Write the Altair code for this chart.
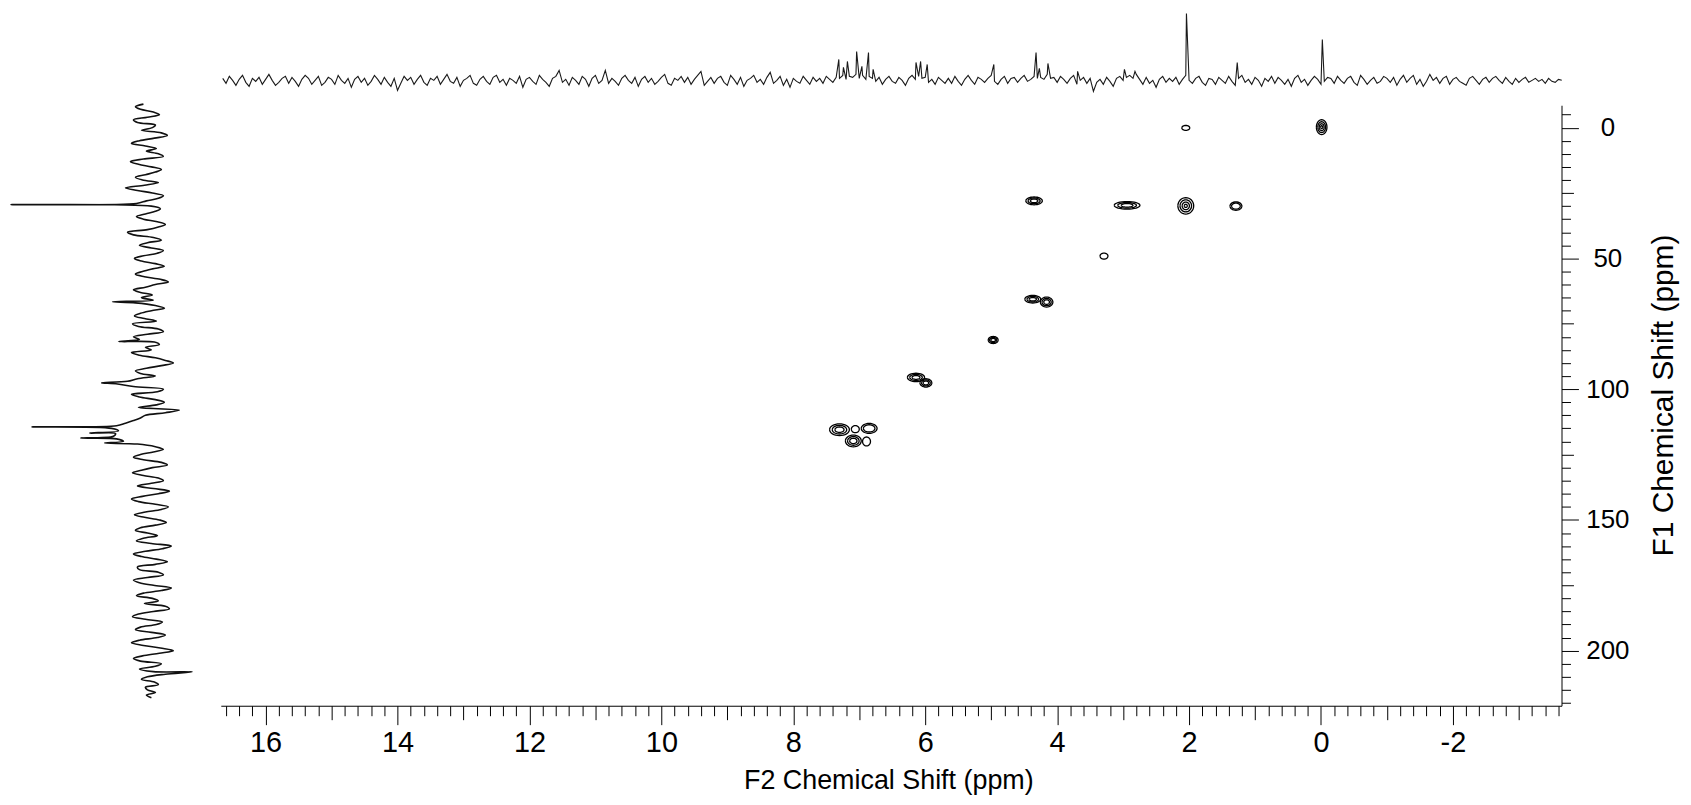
import math
import altair as alt
import pandas as pd

# ---------------- data ----------------
# 1H projection (top trace): noise on a 0.05 ppm grid from 16.65 ppm down to -3.65 ppm
top_noise = [
    3, -2, 5, 1, -4, 2, 6, -1, -5, 3, 0, 4, -3, 2, 7, 1, -4, -1, 3, 5,
    -2, 4, 0, -5, 2, 6, 3, -3, 1, 5, -4, -1, 4, 2, -3, 6, 1, -2, 3, -6,
    2, 5, -1, 3, -4, 0, 6, 2, -3, 4, -1, -5, 3, -9, -2, 5, 1, 4, -3, 2,
    6, -1, -4, 3, 1, 5, -3, 2, 7, 0, -2, 4, -5, 1, 3, 6, -2, -4, 2, 5,
    0, -3, 4, 6, -1, 2, -4, 3, 1, -2, 5, -6, 2, 4, 0, -3, 6, 2, -1, -5,
    3, 5, 11, -1, 2, -4, 4, 1, -3, 5, 2, -5, 3, 6, -2, 1, 11, -2, 3, 0,
    -4, 3, 6, 1, -2, 4, -5, 2, 5, -1, 3, -3, 0, 4, 7, -2, -4, 3, 1, 5,
    -1, 4, -3, 2, 6, 10, -4, 0, 4, -2, 3, 5, -1, -4, 6, 2, -3, 4, -5, 1,
    3, 6, -1, 2, -3, 4, 9, -2, 1, 5, -4, 2, -6, 3, 0, -2, 5, 1, -3, 4,
    0, 3, -2, 5, 2, -1, 4, 3, 6, 2, 5, 4, 7, 3, 6, 2, 5, 3, 0, 4,
    -3, 2, 5, 0, -2, 4, 1, -4, 3, 6, 2, 5, 3, 4, -1, 2, -3, 4, 1, -2,
    3, -2, 5, 0, -4, 2, 6, 1, -3, 4, 2, -1, 3, 6, 0, -3, 2, 5, -2, 3,
    4, -1, 3, 6, 0, 2, 5, 3, 4, 2, 7, 3, 4, -1, 5, 2, -2, 3, 6, -3,
    1, 4, -2, 3, -10, -1, 2, -3, 4, 0, -5, 3, 5, 1, 4, 6, 3, 7, 2, -3,
    4, -2, 1, -6, 2, 5, -1, 3, 0, 4, -3, 2, 6, 1, -2, 3, 5, -1, -4, 3,
    2, -3, 4, 1, -2, 5, 0, -4, 3, 6, -1, 2, -3, 4, 1, -5, 3, 0, 5, -2,
    4, 1, -3, 2, -5, 3, 6, -1, 2, -4, 1, 5, 2, -3, 0, 4, 3, -2, 5, 1,
    -2, 3, 5, -1, -4, 6, 2, -3, 1, 4, -2, 0, 5, 3, -1, 4, -4, 2, 6, -1,
    3, 6, -3, 2, -5, 0, 7, 1, 4, -2, 3, 5, -3, 2, 4, 0, -2, -4, 3, 5,
    1, -3, 2, 4, -1, 3, 5, 1, -2, 4, 0, -3, 3, -1, 2, 4, -1, 1, 3, 0,
    2, -2, 3, 0, -1, 2, 1,
]
top_start_ppm = 16.65
top_step_ppm = 0.05
top_peak_ppm = [7.31, 7.24, 7.18, 7.04, 6.96, 6.86, 6.79, 6.14, 6.07, 5.97,
                4.96, 4.32, 4.27, 4.14, 3.69, 2.98, 2.82, 2.04, 1.27, -0.02]
top_peak_h = [22, 14, 20, 30, 15, 29, 12, 19, 20, 17,
              17, 29, 13, 18, 10, 12, 10, 68, 19, 42]

# 13C projection (left trace): noise on a 1 ppm grid from -9 ppm to 218 ppm (positive = to the left)
left_noise = [
    6, 14, 9, -4, -10, 2, 16, 12, -6, -3, 8, -12, -18, -5, 10, 18, 4, -7, 3, -9,
    -14, 6, 19, 11, -2, -12, -6, 4, 14, 7, -9, 5, 24, 12, -3, -14, -9, 3, 13, -2,
    -11, -6, 4, 13, 6, -8, -16, -9, 2, 22, 16, -4, -12, 2, 10, -2, -14, -8, 6, 15,
    8, -6, -15, -3, 7, 14, 5, -11, -19, -6, 4, 16, 9, -3, 8, -4, 14, -6, -15, -2,
    9, 15, 5, -7, 17, 11, -9, -14, 2, 16, 10, -5, -10, 4, -2, 18, 10, -6, -16, -24,
    -12, 3, 14, 9, -6, 12, 22, 32, 16, -14, -8, 18, 10, -6, -15, -7, 11, -30, -16, 4,
    9, 16, 24, 33, 38, 31, 34, 36, 33, 26, 12, -6, -14, -4, 9, 16, 6, -12, -18, -3,
    8, 17, 6, -9, -14, -2, 12, -4, -20, -9, 7, 18, 11, -6, -19, -12, 4, 15, 5, -10,
    -17, -6, 9, 14, 2, -8, 6, 13, -2, -22, -13, 4, 16, 8, -7, -18, -6, 12, 10, -9,
    -14, 2, 16, 10, -4, -22, -12, 6, 13, -3, -9, 5, -16, -20, -4, 11, 17, 4, -13, -7,
    9, 14, -2, -16, -8, 10, 18, 6, -11, -24, -10, 7, 16, 9, -12, -6, 10, -4, -16, 2,
    8, -5, -9, 4, 2, -6, 3, -2,
]
left_start_ppm = -9
left_step_ppm = 1
left_peak_ppm = [29.4, 66.6, 81.8, 97.6, 114.4, 116.8, 118.7, 120.6, 208.1]
left_peak_h = [139, 37, 31, 48, 118, 60, 69, 45, -43]

# 2D cross peaks: F2 (x), F1 (y), widths, contour levels
peak_f2 = [2.05, -0.01, 4.35, 2.94, 2.05, 1.29, 3.29, 4.37, 4.16, 4.97,
           6.14, 5.99, 7.30, 7.06, 6.85, 7.09, 6.89]
peak_f1 = [0.1, -0.2, 28.0, 29.7, 29.9, 30.0, 49.1, 65.6, 66.7, 81.2,
           95.5, 97.6, 115.5, 115.3, 115.0, 119.8, 120.0]
peak_w2 = [0.12, 0.16, 0.25, 0.39, 0.24, 0.18, 0.12, 0.24, 0.19, 0.15,
           0.26, 0.18, 0.30, 0.12, 0.24, 0.24, 0.12]
peak_w1 = [1.9, 5.7, 3.0, 2.9, 6.3, 3.2, 2.3, 2.9, 3.8, 2.7,
           3.2, 3.2, 4.5, 2.7, 3.8, 4.5, 3.4]
peak_levels = [1, 4, 3, 3, 4, 2, 1, 3, 3, 3, 3, 3, 3, 1, 2, 3, 1]

# axis tick values
x_tick_values = [round(16.6 - 0.2 * i, 1) for i in range(102)]
y_tick_values = list(range(-5, 221, 5))

# ---------------- tables ----------------
tp = [(round(top_start_ppm - top_step_ppm * i, 2), v) for i, v in enumerate(top_noise)]
tp += list(zip(top_peak_ppm, top_peak_h))
tp.sort(key=lambda p: -p[0])
top_df = pd.DataFrame({"ppm": [p[0] for p in tp], "val": [p[1] for p in tp],
                       "ord": list(range(len(tp)))})

lp = [(left_start_ppm + left_step_ppm * i, v) for i, v in enumerate(left_noise)]
lp += list(zip(left_peak_ppm, left_peak_h))
lp.sort(key=lambda p: p[0])
left_df = pd.DataFrame({"ppm": [p[0] for p in lp], "val": [p[1] for p in lp],
                        "ord": list(range(len(lp)))})

rows = []
rid = 0
for cx, cy, w, h, n in zip(peak_f2, peak_f1, peak_w2, peak_w1, peak_levels):
    for k in range(n):
        s = 1 - 0.27 * k
        for j in range(33):
            t = 2 * math.pi * j / 32
            rows.append({"f2": cx + 0.5 * w * s * math.cos(t),
                         "f1": cy + 0.5 * h * s * math.sin(t),
                         "ring": rid, "step": j})
        rid += 1
cont_df = pd.DataFrame(rows)

# ---------------- scales ----------------
X_DOM = [16.679, -3.646]
X_RNG = [213.7, 1560]
Y_DOM = [-8.57, 221.06]
Y_RNG = [96, 699]


def xs():
    return alt.Scale(domain=X_DOM, range=X_RNG, nice=False, zero=False)


def ys():
    return alt.Scale(domain=Y_DOM, range=Y_RNG, nice=False, zero=False)


FONT = "Liberation Sans, Arial, sans-serif"

x_axis = alt.Axis(
    orient="bottom",
    values=x_tick_values,
    title="F2 Chemical Shift (ppm)",
    labelExpr="abs(datum.value - round(datum.value/2)*2) < 0.01 ? '' + round(datum.value) : ''",
    tickSize={"condition": [
        {"test": "abs(datum.value - round(datum.value/2)*2) < 0.01", "value": 19},
        {"test": "abs(datum.value - round(datum.value)) < 0.01", "value": 14}],
        "value": 10},
    labelPadding=4,
    labelOverlap=False, labelFlush=False, labelBound=False,
    labelFont=FONT, labelFontSize=29, labelColor="black",
    titleFont=FONT, titleFontSize=27, titleFontWeight="normal", titleColor="black",
    titleX=884, titleY=75, titleBaseline="middle", titleAlign="center",
    domainColor="black", domainWidth=1, tickColor="black", tickWidth=1, grid=False,
)

y_axis = alt.Axis(
    orient="right",
    values=y_tick_values,
    title="F1 Chemical Shift (ppm)",
    labelExpr="datum.value % 50 === 0 ? '' + datum.value : ''",
    tickSize={"condition": [
        {"test": "datum.value % 50 === 0", "value": 17},
        {"test": "datum.value % 25 === 0", "value": 12}],
        "value": 9},
    labelAlign="center", labelBaseline="middle", labelPadding=29,
    labelOverlap=False, labelFlush=False, labelBound=False,
    labelFont=FONT, labelFontSize=26, labelColor="black",
    titleFont=FONT, titleFontSize=30, titleFontWeight="normal", titleColor="black",
    titleAngle=270, titleX=102, titleY=387, titleBaseline="middle", titleAlign="center",
    domainColor="black", domainWidth=1, tickColor="black", tickWidth=1, grid=False,
)

contours = alt.Chart(cont_df).mark_line(color="black", strokeWidth=1.3).encode(
    x=alt.X("f2:Q", scale=xs(), axis=x_axis),
    y=alt.Y("f1:Q", scale=ys(), axis=y_axis),
    detail="ring:N",
    order="step:Q",
)

top_line = alt.Chart(top_df).mark_line(color="#1a1a1a", strokeWidth=1.1).encode(
    x=alt.X("ppm:Q", scale=xs(), axis=None),
    y=alt.Y("val:Q", scale=alt.Scale(domain=[0, 80], range=[72, -8], nice=False, zero=False), axis=None),
    order="ord:Q",
)

left_line = alt.Chart(left_df).mark_line(
    color="#111111", strokeWidth=1.6, interpolate="catmull-rom"
).encode(
    x=alt.X("val:Q", scale=alt.Scale(domain=[0, 150], range=[142, -8], nice=False, zero=False), axis=None),
    y=alt.Y("ppm:Q", scale=ys(), axis=None),
    order="ord:Q",
)

chart = alt.layer(contours, top_line, left_line).resolve_scale(
    x="independent", y="independent"
).properties(
    width=1560, height=699,
    autosize=alt.AutoSizeParams(type="none"),
    padding={"left": 0, "top": 0, "right": 122, "bottom": 92},
    background="white",
).configure_view(strokeWidth=0)

chart.save("out.html", embed_options={"renderer": "svg", "actions": False})
